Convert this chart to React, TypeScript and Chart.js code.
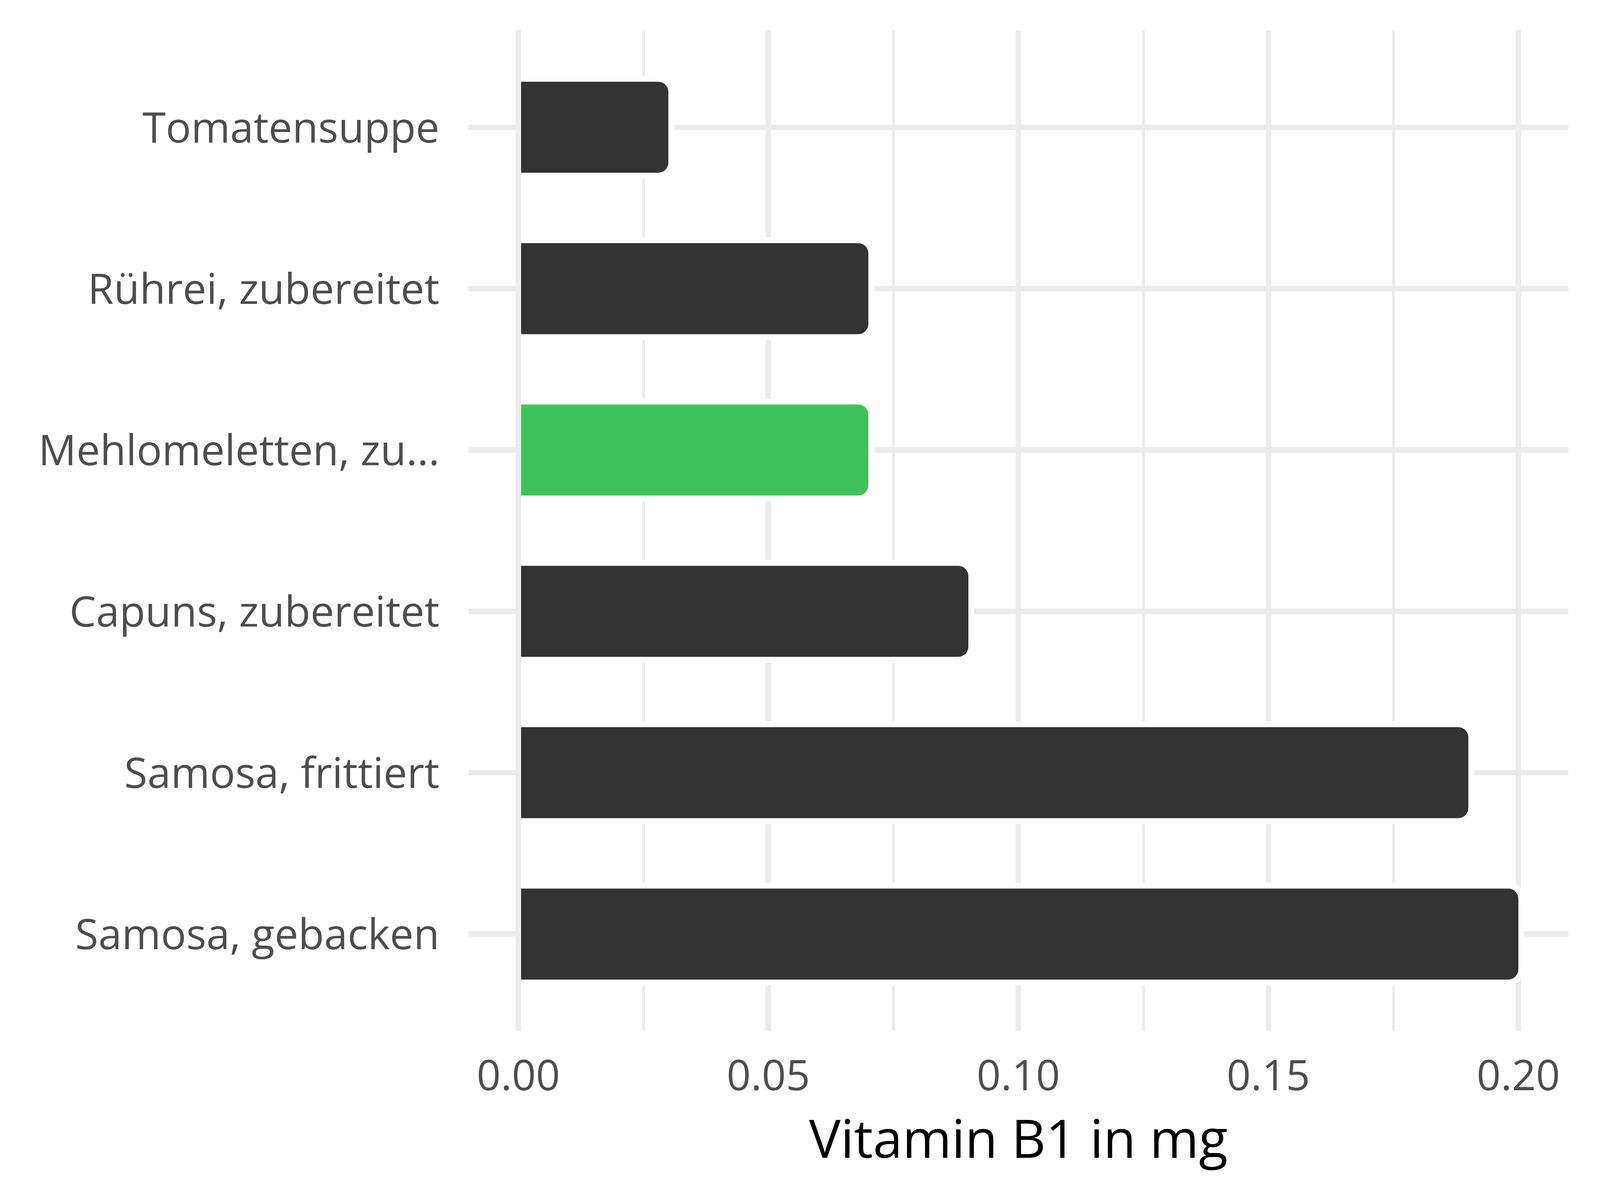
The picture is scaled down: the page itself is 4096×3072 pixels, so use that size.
import React, { useEffect, useRef } from "react";
import { Chart, registerables } from "chart.js";

Chart.register(...registerables);

const categories = [
  "Tomatensuppe",
  "Rührei, zubereitet",
  "Mehlomeletten, zu...",
  "Capuns, zubereitet",
  "Samosa, frittiert",
  "Samosa, gebacken",
];
const values = [0.03, 0.07, 0.07, 0.09, 0.19, 0.2];
const highlighted = ["Mehlomeletten, zu..."];
const xTicks = [0, 0.05, 0.1, 0.15, 0.2];
const xTickLabels = ["0.00", "0.05", "0.10", "0.15", "0.20"];
const xTitle = "Vitamin B1 in mg";

const DARK = "#333333";
const GREEN = "#3EC35A";
const GRID = "#EBEBEB";
const FONT = "'Open Sans', 'Noto Sans', sans-serif";

const outlinePlugin = {
  id: "barOutline",
  beforeDatasetsDraw(chart: any) {
    const ctx = chart.ctx;
    const meta = chart.getDatasetMeta(0);
    ctx.save();
    ctx.fillStyle = "#FFFFFF";
    meta.data.forEach((bar: any) => {
      const { x, y, base, height } = bar.getProps(["x", "y", "base", "height"], true);
      const pad = 15;
      const r = 26 + pad;
      const left = base;
      const right = x + pad;
      const top = y - height / 2 - pad;
      const bottom = y + height / 2 + pad;
      ctx.beginPath();
      ctx.roundRect(left, top, right - left, bottom - top, [0, r, r, 0]);
      ctx.fill();
    });
    ctx.restore();
  },
};

export default function App() {
  const ref = useRef<HTMLCanvasElement | null>(null);

  useEffect(() => {
    if (!ref.current) return;
    const allTicks: number[] = [];
    xTicks.forEach((v, i) => {
      allTicks.push(v);
      if (i < xTicks.length - 1) allTicks.push((v + xTicks[i + 1]) / 2);
    });

    const chart = new Chart(ref.current, {
      type: "bar",
      data: {
        datasets: [
          {
            data: values.map((v, i) => ({ x: v, y: i })),
            backgroundColor: categories.map((c) => (highlighted.includes(c) ? GREEN : DARK)),
            borderWidth: 0,
            borderRadius: 26,
            categoryPercentage: 1,
            barPercentage: 0.564,
          },
        ],
      },
      options: {
        indexAxis: "y",
        animation: false,
        responsive: false,
        maintainAspectRatio: false,
        layout: { padding: { top: 78, right: 81, left: 0, bottom: 0 } },
        plugins: {
          legend: { display: false },
          tooltip: { enabled: false },
          title: { display: false },
        },
        scales: {
          y: {
            type: "linear",
            reverse: true,
            offset: false,
            min: -0.6,
            max: 5.6,
            afterBuildTicks: (scale: any) => {
              scale.ticks = categories.map((_, i) => ({ value: i }));
            },
            afterFit: (scale: any) => {
              scale.width = 1199;
              scale.paddingTop = 0;
              scale.paddingBottom = 0;
            },
            grid: { color: GRID, lineWidth: 14, drawTicks: false, offset: false },
            border: { display: false },
            ticks: {
              autoSkip: false,
              padding: 74,
              labelOffset: 8,
              color: "#4D4D4D",
              font: { family: FONT, size: 108 },
              callback: (v: any) => categories[v as number] ?? "",
            },
          },
          x: {
            type: "linear",
            min: -0.01,
            max: 0.21,
            offset: false,
            afterBuildTicks: (scale: any) => {
              scale.ticks = allTicks.map((v) => ({ value: v }));
            },
            afterFit: (scale: any) => {
              scale.height = 433;
              scale.paddingLeft = 0;
              scale.paddingRight = 0;
            },
            grid: {
              color: GRID,
              lineWidth: (ctx: any) => (ctx.index % 2 === 0 ? 14 : 7),
              drawTicks: false,
              offset: false,
            },
            border: { display: false },
            ticks: {
              autoSkip: false,
              maxRotation: 0,
              padding: 56,
              color: "#4D4D4D",
              font: { family: FONT, size: 108 },
              callback: (_v: any, i: number) => (i % 2 === 0 ? xTickLabels[i / 2] : ""),
            },
            title: {
              display: true,
              text: xTitle,
              color: "#000000",
              font: { family: FONT, size: 136 },
              padding: { top: 0, bottom: 65 },
            },
          },
        },
      },
      plugins: [outlinePlugin],
    });
    return () => chart.destroy();
  }, []);

  return (
    <div style={{ position: "fixed", left: 0, top: 0, width: 4096, height: 3072, background: "#FFFFFF" }}>
      <canvas ref={ref} width={4096} height={3072} style={{ width: 4096, height: 3072, display: "block" }} />
    </div>
  );
}
